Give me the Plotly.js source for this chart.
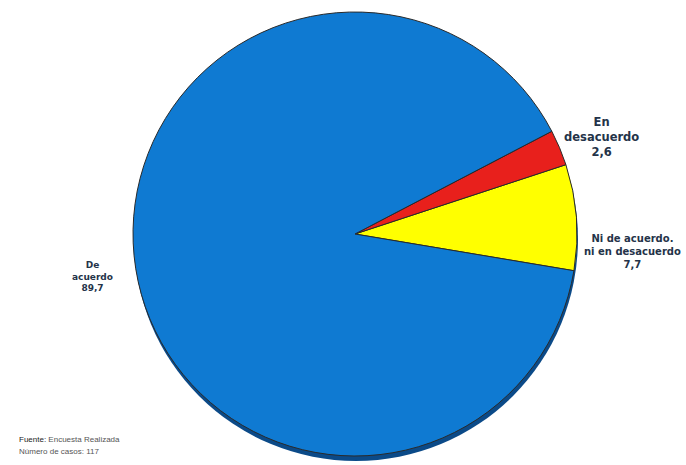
<!DOCTYPE html>
<html>
<head>
<meta charset="utf-8">
<script src="https://cdn.plot.ly/plotly-3.0.1.min.js"></script>
<style>html,body{margin:0;padding:0;background:#fff;}#chart{width:686px;height:465px;}</style>
</head>
<body>
<div id="chart"></div>
<script>
const categories = ["Ni de acuerdo.\nni en desacuerdo", "En\ndesacuerdo", "De\nacuerdo"];
const values = [7.7, 2.6, 89.7];
const valueLabels = ["7,7", "2,6", "89,7"];
const colors = ["#ffff00", "#e8201c", "#0f7ad2"];
const sourceLines = ["Fuente: Encuesta Realizada", "Número de casos: 117"];

// label placement (pixels) and size, kept separate from the data
const labelPlacement = [
  {x: 632, y: 251, size: 10},
  {x: 601, y: 137, size: 11.5},
  {x: 92, y: 276, size: 9}
];

const W = 686, H = 465;
const cx = 355, cy = 234, r = 222;
const dom = (dx, dy) => ({
  x: [(cx - r + dx) / W, (cx + r + dx) / W],
  y: [1 - (cy + r + dy) / H, 1 - (cy - r + dy) / H]
});

const shadow = {
  type: "pie", values: [1], labels: ["s"], sort: false,
  marker: {colors: ["#0b4a88"], line: {width: 0}},
  textinfo: "none", hoverinfo: "skip", domain: dom(1, 5), showlegend: false
};
const pie = {
  type: "pie", values: values, labels: categories, sort: false,
  direction: "counterclockwise", rotation: 71.8,
  marker: {colors: colors, line: {color: "#2a2a2a", width: 1}},
  textinfo: "none", domain: dom(0, 0), showlegend: false
};

const annotations = categories.map((c, i) => ({
  x: labelPlacement[i].x / W, y: 1 - labelPlacement[i].y / H, xref: "paper", yref: "paper",
  xanchor: "center", yanchor: "middle",
  text: c.replace("\n", "<br>") + "<br>" + valueLabels[i],
  showarrow: false, align: "center",
  font: {family: "DejaVu Sans, Verdana, sans-serif", size: labelPlacement[i].size, color: "#243349", weight: "bold"}
}));
sourceLines.forEach((t, i) => {
  const parts = t.split(": ");
  const txt = i === 0 ? '<span style="color:#222">' + parts[0] + ':</span> ' + parts[1] : t;
  annotations.push({
    x: 17 / W, y: 1 - (439 + i * 12) / H, xref: "paper", yref: "paper",
    xanchor: "left", yanchor: "middle", text: txt, showarrow: false,
    font: {family: "Liberation Sans, Arial, sans-serif", size: 8, color: "#555"}
  });
});

Plotly.newPlot("chart", [shadow, pie], {
  width: W, height: H, margin: {l: 0, r: 0, t: 0, b: 0},
  paper_bgcolor: "#fff", plot_bgcolor: "#fff", annotations: annotations
}, {staticPlot: true});
</script>
</body>
</html>
